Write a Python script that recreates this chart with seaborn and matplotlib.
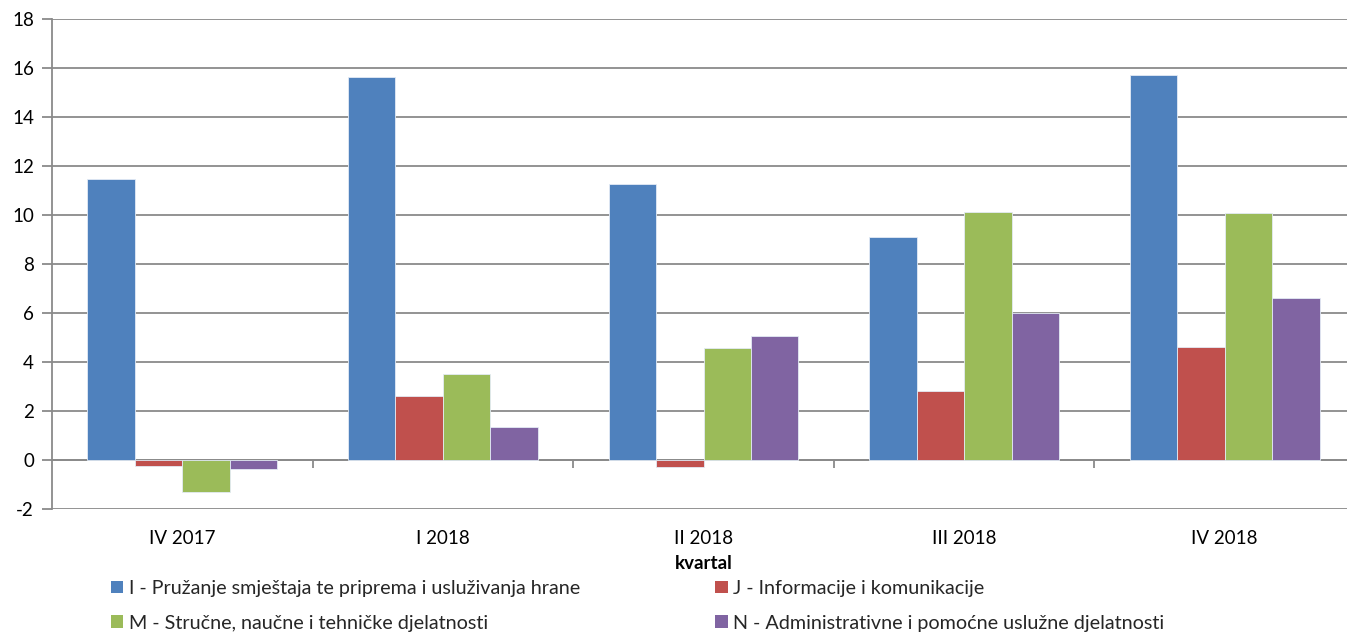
import matplotlib
matplotlib.use("Agg")
import matplotlib.pyplot as plt
import seaborn as sns
import pandas as pd
from matplotlib.patches import Patch

quarters = ["IV 2017", "I 2018", "II 2018", "III 2018", "IV 2018"]
sectors = [
    "I - Pružanje smještaja te priprema i usluživanja hrane",
    "J - Informacije i komunikacije",
    "M - Stručne, naučne i tehničke djelatnosti",
    "N - Administrativne i pomoćne uslužne djelatnosti",
]
vals_I = [11.48, 15.65, 11.25, 9.12, 15.70]
vals_J = [-0.23, 2.62, -0.30, 2.80, 4.62]
vals_M = [-1.29, 3.50, 4.58, 10.12, 10.07]
vals_N = [-0.37, 1.34, 5.08, 6.00, 6.61]
colors = ["#4F81BD", "#C0504D", "#9BBB59", "#8064A2"]

rows = []
for s, vals in zip(sectors, [vals_I, vals_J, vals_M, vals_N]):
    for q, v in zip(quarters, vals):
        rows.append({"kvartal": q, "sektor": s, "vrijednost": v})
df = pd.DataFrame(rows)

sns.set_theme(style="white")
plt.rcParams["font.family"] = ["Lato", "DejaVu Sans"]
plt.rcParams["axes.unicode_minus"] = False

fig = plt.figure(figsize=(13.47, 6.34), dpi=100)
ax = fig.add_axes([52 / 1347, 1 - 509 / 634, (1355 - 52) / 1347, (509 - 19) / 634])

sns.barplot(data=df, x="kvartal", y="vrijednost", hue="sektor", order=quarters,
            hue_order=sectors, palette=colors, saturation=1, width=0.729, gap=0,
            edgecolor="#e3ebf5", linewidth=0.6, ax=ax, legend=False, zorder=3)

gridc = "#8a8a8a"
ax.set_ylim(-2, 18)
ax.set_yticks(range(-2, 19, 2))
ax.set_xlim(-0.5, 4.5)
ax.yaxis.grid(True, color=gridc, linewidth=1.3, zorder=0)
ax.set_axisbelow(True)
for sp in ["top", "right", "bottom"]:
    ax.spines[sp].set_visible(False)
ax.spines["left"].set_color(gridc)
ax.spines["left"].set_linewidth(1.3)
ax.tick_params(axis="y", direction="out", length=7, width=1.3, color=gridc,
               labelsize=13.5, pad=6, labelcolor="#000000", left=True)
ax.tick_params(axis="x", length=0, labelsize=13.5, pad=15, labelcolor="#000000")
ax.set_ylabel("")
ax.set_xlabel("kvartal", fontsize=13.5, fontweight="bold", labelpad=6, color="#000000")

# zero line with category boundary ticks
ax.axhline(0, color=gridc, linewidth=1.3, zorder=1)
sec = ax.secondary_xaxis(location=0.1)
sec.set_xticks([0.5, 1.5, 2.5, 3.5, 4.5])
sec.tick_params(axis="x", direction="out", length=6, width=1.3, color=gridc, labelbottom=False)
sec.spines["bottom"].set_visible(False)

handles = [Patch(facecolor=c, edgecolor="none") for c in colors]
order = [0, 2, 1, 3]
fig.legend([handles[i] for i in order], [sectors[i] for i in order],
           loc="upper left", bbox_to_anchor=(101 / 1347, 1 - 570 / 634), ncol=2,
           frameon=False, fontsize=14.2, handlelength=0.62, handleheight=0.62,
           handletextpad=0.3, columnspacing=6.85, labelspacing=0.9, borderpad=0)

fig.savefig("out.png", dpi=100)
